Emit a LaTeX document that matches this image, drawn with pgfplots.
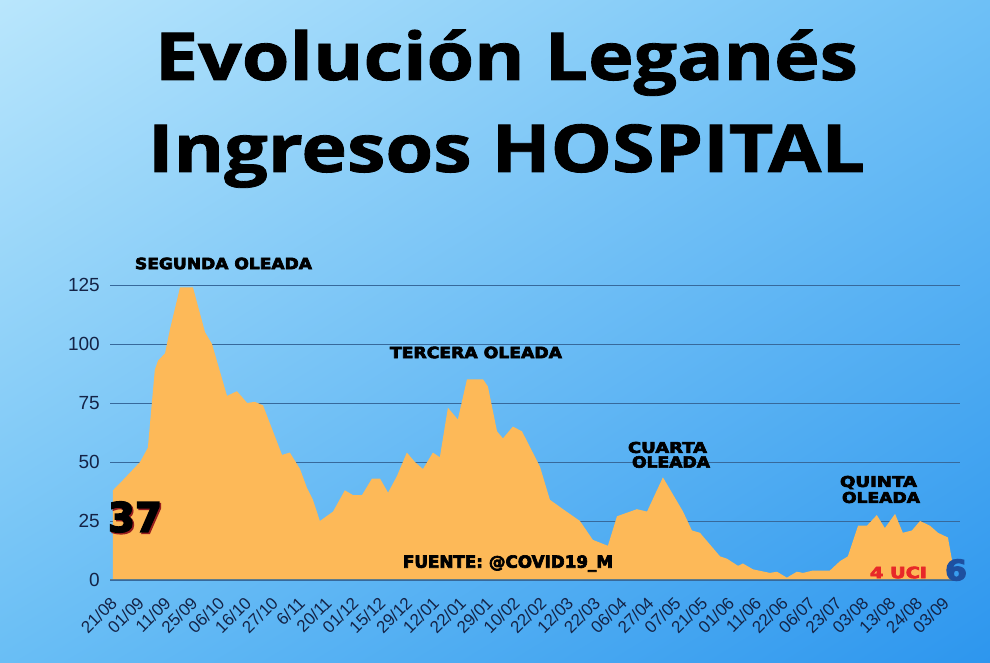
\documentclass[border=0pt]{standalone}
\usepackage{pgfplots}
\pgfplotsset{compat=1.18}
\usetikzlibrary{shadings}
\usepackage{fontspec}
\setmainfont{Liberation Sans}
\newfontfamily\titlefont[BoldFeatures={FakeBold=1.2}]{Open Sans}
\newfontfamily\heavyfont[BoldFeatures={FakeBold=4}]{DejaVu Sans}
\definecolor{areaC}{RGB}{253,185,88}
\definecolor{gridC}{RGB}{55,105,155}
\definecolor{tickC}{RGB}{20,35,70}
\definecolor{bgTL}{RGB}{185,230,252}
\definecolor{bgTR}{RGB}{110,192,246}
\definecolor{bgBL}{RGB}{105,190,245}
\definecolor{bgBR}{RGB}{45,150,238}
\definecolor{uciC}{RGB}{232,40,40}
\definecolor{sixC}{RGB}{30,80,160}
\definecolor{baseC}{RGB}{95,125,140}
\begin{document}
\begin{tikzpicture}[x=1pt,y=1pt]
\shade[upper left=bgTL, upper right=bgTR, lower left=bgBL, lower right=bgBR] (0,0) rectangle (990,663);
\useasboundingbox (0,0) rectangle (990,663);
\begin{axis}[
  at={(110pt,83pt)}, anchor=south west, scale only axis,
  width=850pt, height=295pt,
  xmin=-0.11, xmax=31.56, ymin=0, ymax=125,
  axis line style={draw=none}, tick style={draw=none},
  ymajorgrids, grid style={gridC, line width=0.8pt},
  ytick={0,25,50,75,100,125},
  xtick={0,...,31},
  xticklabels={21/08,01/09,11/09,25/09,06/10,16/10,27/10,6/11,20/11,01/12,15/12,29/12,12/01,22/01,29/01,10/02,22/02,12/03,22/03,06/04,27/04,07/05,21/05,01/06,11/06,22/06,06/07,23/07,03/08,13/08,24/08,03/09},
  /pgf/number format/assume math mode=true,
  yticklabel style={font=\fontsize{19}{19}\selectfont, text=tickC, xshift=-10pt, inner sep=0pt},
  xticklabel style={font=\fontsize{17}{17}\selectfont, text=tickC, xshift=1pt, yshift=-20pt, rotate=45, anchor=east, inner sep=0pt},
]
\addplot[fill=areaC, draw=none] coordinates {
(0,38) (0.26,41) (1.01,50) (1.30,56) (1.56,89) (1.68,93) (1.94,96) (2.12,106)
(2.50,124) (2.98,124) (3.24,113) (3.43,105) (3.69,100) (4.25,78) (4.62,80)
(5.00,75) (5.29,75.5) (5.59,74) (6.30,53) (6.59,54) (6.97,47) (7.23,39)
(7.45,34) (7.71,25) (8.20,29) (8.64,38) (8.94,36) (9.28,36) (9.65,43)
(9.95,43) (10.25,37) (10.58,44) (10.95,54) (11.25,50) (11.55,47) (11.92,54)
(12.18,52) (12.48,73) (12.85,68) (13.19,85) (13.79,85) (13.97,82) (14.31,63)
(14.53,60) (14.90,65) (15.24,63) (15.91,48) (16.28,34) (16.77,30) (17.40,25)
(17.88,17) (18.44,14.5) (18.78,27) (19.52,30) (19.90,29) (20.49,43.5)
(21.24,29) (21.57,21) (21.87,20) (22.62,10) (22.88,9) (23.29,6) (23.47,7)
(23.85,4.5) (24.48,3) (24.74,3.5) (25.11,1) (25.48,3.5) (25.71,3) (26.08,4)
(26.71,4) (27.09,8) (27.38,10) (27.76,23) (28.09,23) (28.46,27.5) (28.76,22)
(29.14,28) (29.43,20) (29.77,21) (30.07,25) (30.44,23) (30.74,20) (31.11,18)
(31.30,6)
} \closedcycle;
\draw[baseC, line width=1.2pt] (axis cs:-0.11,0) -- (axis cs:31.56,0);
\end{axis}
\node[anchor=base, inner sep=0pt] at (506.5,583) {\resizebox{703pt}{\height}{\titlefont\fontsize{66}{66}\selectfont\bfseries Evolución Leganés}};
\node[anchor=base, inner sep=0pt] at (506.5,491) {\resizebox{717pt}{\height}{\titlefont\fontsize{66}{66}\selectfont\bfseries Ingresos HOSPITAL}};
\node[inner sep=0pt] at (223.5,399.5) {\resizebox{177pt}{11.5pt}{\heavyfont\bfseries SEGUNDA OLEADA}};
\node[inner sep=0pt] at (476,310.5) {\resizebox{172pt}{11.5pt}{\heavyfont\bfseries TERCERA OLEADA}};
\node[inner sep=0pt] at (667.5,215.5) {\resizebox{79pt}{11pt}{\heavyfont\bfseries CUARTA}};
\node[inner sep=0pt] at (671,201) {\resizebox{78pt}{11.5pt}{\heavyfont\bfseries OLEADA}};
\node[inner sep=0pt] at (878.5,180.5) {\resizebox{77pt}{11pt}{\heavyfont\bfseries QUINTA}};
\node[inner sep=0pt] at (881,165.5) {\resizebox{78pt}{11pt}{\heavyfont\bfseries OLEADA}};
\node[inner sep=0pt] at (508,99.5) {\resizebox{210pt}{!}{\heavyfont\bfseries FUENTE: @COVID19\_M}};
\node[inner sep=0pt, text=uciC] at (898.5,90.5) {\resizebox{57pt}{11.5pt}{\heavyfont\bfseries 4 UCI}};
\node[inner sep=0pt, text=sixC] at (956,93) {\resizebox{22pt}{21pt}{\heavyfont\bfseries 6}};
\node[inner sep=0pt, text={rgb,255:red,150;green,30;blue,30}] at (136.5,144.5) {\resizebox{54pt}{30pt}{\heavyfont\bfseries 37}};
\node[inner sep=0pt, text=black] at (135,146) {\resizebox{54pt}{30pt}{\heavyfont\bfseries 37}};
\end{tikzpicture}
\end{document}
